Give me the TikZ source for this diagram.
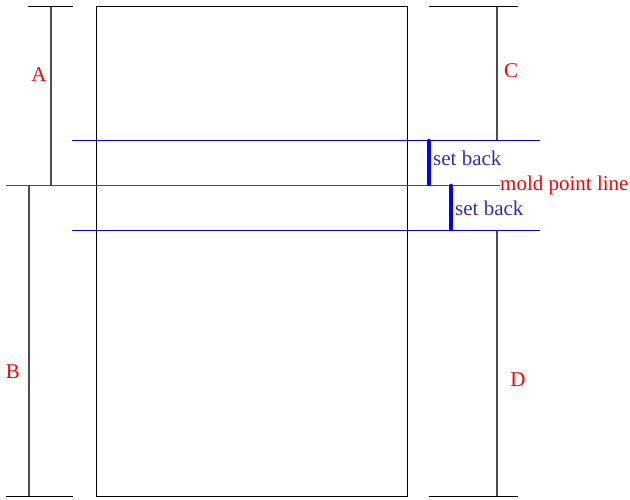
\documentclass[tikz,border=0pt]{standalone}
\usepackage{fontspec}
\setmainfont{Liberation Serif}
\begin{document}
\begin{tikzpicture}[x=1pt,y=-1pt,
  dim/.style={draw=black!70,line width=1.2pt},
  tick/.style={draw=black,line width=1pt},
  guide/.style={draw=blue!80!black,line width=0.8pt},
  mold/.style={draw=red,line width=0.8pt},
  setbar/.style={draw=blue,line width=4.5pt,line cap=round},
  redlbl/.style={text=red,font=\fontsize{21}{24}\selectfont,inner sep=0pt},
  bluelbl/.style={text=blue!60!gray!90!black,font=\fontsize{21}{24}\selectfont,inner sep=0pt,anchor=west}]
\useasboundingbox (0,0) rectangle (630,500);
% main rectangle
\draw[draw=black,line width=1pt] (96,7) rectangle (407,496);
% left dimension A
\draw[tick] (28,7) -- (73,7);
\draw[dim] (51,7) -- (51,185);
% left dimension B
\draw[dim] (29,185) -- (29,496);
\draw[tick] (6,496) -- (73,496);
% right dimension C
\draw[tick] (429,7) -- (518,7);
\draw[dim] (497,7) -- (497,140);
% right dimension D
\draw[dim] (497,230) -- (497,496);
\draw[tick] (429,496) -- (518,496);
% set-back guides
\draw[guide] (72,140) -- (540,140);
\draw[guide] (72,230) -- (540,230);
% mold point line
\node[redlbl,anchor=west] (mpl) at (500,185) {mold point line};
\draw[mold] (6,185) -- (mpl.west);
% set back bars
\coordinate (s1a) at (429,141);
\coordinate (s1b) at (429,184);
\coordinate (s2a) at (451,186);
\coordinate (s2b) at (451,229);
\draw[setbar] (s1a) -- (s1b);
\draw[setbar] (s2a) -- (s2b);
\node[bluelbl] (sb1) at (433,158) {set back};
\node[bluelbl] (sb2) at (455,208) {set back};
% labels
\node[redlbl] (A) at (39,75) {A};
\node[redlbl] (B) at (13,372) {B};
\node[redlbl] (C) at (511,71) {C};
\node[redlbl] (D) at (518,380) {D};
\end{tikzpicture}
\end{document}
